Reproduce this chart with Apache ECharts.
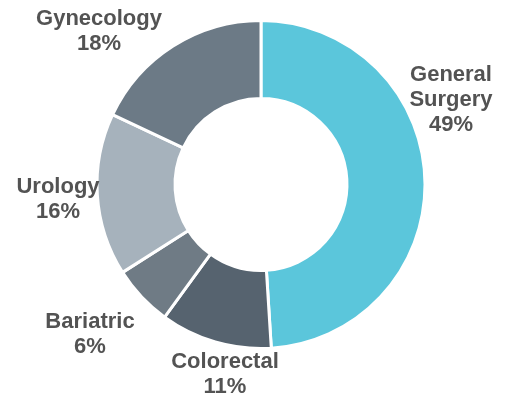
<!DOCTYPE html>
<html>
<head>
<meta charset="utf-8">
<script src="https://cdn.jsdelivr.net/npm/echarts@6/dist/echarts.min.js"></script>
<style>
html,body{margin:0;padding:0;background:#fff;}
#chart{width:507px;height:400px;}
</style>
</head>
<body>
<div id="chart"></div>
<script>
// Data (clockwise from top)
var categories = ['General Surgery', 'Colorectal', 'Bariatric', 'Urology', 'Gynecology'];
var shares = [49, 11, 6, 16, 18];

// Styling / layout (not data)
var sliceColors = ['#5BC6DB', '#56636F', '#6F7B85', '#A6B2BC', '#6C7A86'];
var labelCenters = [[451, 100], [225, 374], [90, 334], [58, 199], [99, 31]];

var chart = echarts.init(document.getElementById('chart'), null, {renderer: 'canvas'});
chart.setOption({
  animation: false,
  backgroundColor: '#ffffff',
  series: [{
    type: 'pie',
    center: [261, 184.5],
    radius: [86, 164],
    startAngle: 90,
    clockwise: true,
    avoidLabelOverlap: false,
    emphasis: {disabled: true},
    itemStyle: {borderColor: '#ffffff', borderWidth: 3},
    label: {
      show: true,
      position: 'outside',
      fontFamily: 'Liberation Sans, Arial, sans-serif',
      fontWeight: 'bold',
      fontSize: 22,
      lineHeight: 25,
      color: '#535353',
      align: 'center',
      formatter: function (p) {
        return p.name.replace(' ', '\n') + '\n' + p.value + '%';
      }
    },
    labelLine: {show: false},
    labelLayout: function (params) {
      var c = labelCenters[params.dataIndex];
      return {x: c[0], y: c[1], align: 'center', verticalAlign: 'middle'};
    },
    data: categories.map(function (name, i) {
      return {name: name, value: shares[i], itemStyle: {color: sliceColors[i]}};
    })
  }]
});
</script>
</body>
</html>
